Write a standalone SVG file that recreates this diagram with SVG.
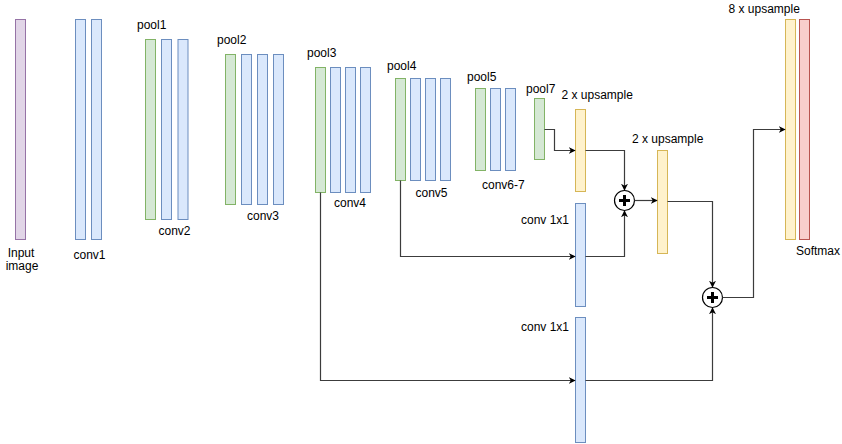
<svg xmlns="http://www.w3.org/2000/svg" width="842" height="444" viewBox="0 0 842 444">
<style>
text{font-family:"Liberation Sans",Arial,Helvetica,sans-serif;font-size:12px;fill:#000}
.in{fill:#e1d5e7;stroke:#9673a6}
.cv{fill:#dae8fc;stroke:#6c8ebf}
.pl{fill:#d5e8d4;stroke:#82b366}
.up{fill:#fff2cc;stroke:#d6b656}
.sm{fill:#f8cecc;stroke:#b85450}
.e{fill:none;stroke:#3c3c3c;stroke-width:1.2}
.sum{fill:#fff;stroke:#000;stroke-width:1.2}
.plus{stroke:#000;stroke-width:3;fill:none}
</style>
<defs>
<marker id="ar" viewBox="0 0 10 10" refX="9" refY="5" markerWidth="7" markerHeight="7" markerUnits="userSpaceOnUse" orient="auto">
<path d="M0,0 L10,5 L0,10 L3,5 Z" fill="#000"/>
</marker>
</defs>
<g id="input"><rect class="in" x="15.5" y="19.5" width="10" height="220"/><text x="21" y="257" text-anchor="middle">Input</text><text x="22" y="270" text-anchor="middle">image</text></g>
<g id="conv1"><rect class="cv" x="75.5" y="19.5" width="10" height="220"/><rect class="cv" x="91.5" y="19.5" width="10" height="220"/><text x="73.5" y="259">conv1</text></g>
<g id="pool1"><rect class="pl" x="145.5" y="39.5" width="10" height="180"/><text x="137" y="29">pool1</text></g>
<g id="conv2"><rect class="cv" x="161.5" y="39.5" width="10" height="180"/><rect class="cv" x="178" y="39.5" width="10" height="180"/><text x="158.5" y="235">conv2</text></g>
<g id="pool2"><rect class="pl" x="225.5" y="54.5" width="10" height="150"/><text x="217" y="44">pool2</text></g>
<g id="conv3"><rect class="cv" x="241.5" y="54.5" width="10" height="150"/><rect class="cv" x="257.5" y="54.5" width="10" height="150"/><rect class="cv" x="273.5" y="54.5" width="10" height="150"/><text x="247" y="220">conv3</text></g>
<g id="pool3"><rect class="pl" x="315.5" y="67.5" width="10" height="125"/><text x="307" y="57">pool3</text></g>
<g id="conv4"><rect class="cv" x="330.5" y="67.5" width="10" height="125"/><rect class="cv" x="345.5" y="67.5" width="10" height="125"/><rect class="cv" x="360.5" y="67.5" width="10" height="125"/><text x="334" y="207">conv4</text></g>
<g id="pool4"><rect class="pl" x="395.5" y="78.5" width="10" height="102"/><text x="387" y="70">pool4</text></g>
<g id="conv5"><rect class="cv" x="410.5" y="78.5" width="10" height="102"/><rect class="cv" x="425.5" y="78.5" width="10" height="102"/><rect class="cv" x="440.5" y="78.5" width="10" height="102"/><text x="415.5" y="197">conv5</text></g>
<g id="pool5"><rect class="pl" x="475.5" y="88.5" width="10" height="82"/><text x="467" y="81">pool5</text></g>
<g id="conv6-7"><rect class="cv" x="490.5" y="88.5" width="10" height="82"/><rect class="cv" x="505.5" y="88.5" width="10" height="82"/><text x="482" y="189">conv6-7</text></g>
<g id="pool7"><rect class="pl" x="534.5" y="98.5" width="10" height="61"/><text x="526" y="93">pool7</text></g>
<g id="upsample1"><rect class="up" x="575.5" y="109.5" width="10" height="82"/><text x="561.5" y="99">2 x upsample</text></g>
<g id="conv1x1a"><rect class="cv" x="575.5" y="203.5" width="10" height="103"/><text x="521" y="224">conv 1x1</text></g>
<g id="conv1x1b"><rect class="cv" x="575.5" y="317.5" width="10" height="125"/><text x="521" y="331">conv 1x1</text></g>
<g id="upsample2"><rect class="up" x="657.5" y="150.5" width="10" height="103"/><text x="632" y="143">2 x upsample</text></g>
<g id="sum1"><circle class="sum" cx="624.5" cy="200.5" r="10"/><path class="plus" d="M619,200.5 H630 M624.5,195 V206"/></g>
<g id="sum2"><circle class="sum" cx="712.5" cy="297.5" r="10"/><path class="plus" d="M707,297.5 H718 M712.5,292 V303"/></g>
<g id="upsample8"><rect class="up" x="785.5" y="19.5" width="10" height="220"/><text x="728.5" y="13">8 x upsample</text></g>
<g id="softmax"><rect class="sm" x="799.5" y="19.5" width="10" height="220"/><text x="796" y="255">Softmax</text></g>
<g id="connectors">
<path class="e" d="M544.5,129.5 H554.5 V150.5 H575" marker-end="url(#ar)"/>
<path class="e" d="M585.5,150.5 H624.5 V190" marker-end="url(#ar)"/>
<path class="e" d="M400.5,180.5 V256.5 H575" marker-end="url(#ar)"/>
<path class="e" d="M585.5,256.5 H624.5 V211" marker-end="url(#ar)"/>
<path class="e" d="M634.5,200.5 H657" marker-end="url(#ar)"/>
<path class="e" d="M667.5,201.5 H712.5 V287" marker-end="url(#ar)"/>
<path class="e" d="M320.5,192.5 V380.5 H575" marker-end="url(#ar)"/>
<path class="e" d="M585.5,380.5 H712.5 V308" marker-end="url(#ar)"/>
<path class="e" d="M722.5,297.5 H753.5 V129.5 H785" marker-end="url(#ar)"/>
</g>
</svg>
